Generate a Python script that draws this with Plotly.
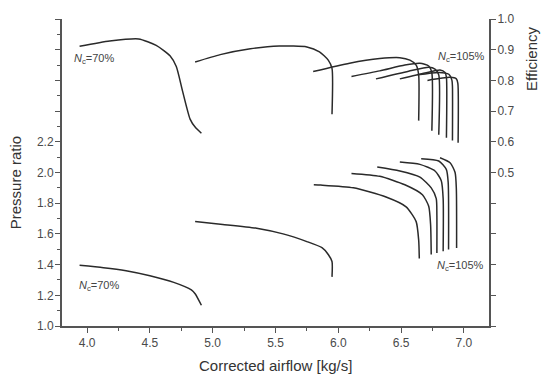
import plotly.graph_objects as go

# ---- data: pressure ratio lines (left axis) ----
pr70_m = [3.94, 4.13, 4.31, 4.50, 4.69, 4.83, 4.86, 4.91]
pr70_p = [1.395, 1.38, 1.36, 1.327, 1.284, 1.235, 1.21, 1.135]
pr2_m = [4.86, 5.08, 5.35, 5.56, 5.75, 5.87, 5.92, 5.95, 5.95]
pr2_p = [1.68, 1.662, 1.637, 1.60, 1.55, 1.51, 1.466, 1.42, 1.32]
pr3_m = [5.805, 5.86, 6.12, 6.38, 6.54, 6.62, 6.64, 6.645]
pr3_p = [1.92, 1.918, 1.90, 1.84, 1.776, 1.68, 1.56, 1.44]
pr4_m = [6.105, 6.33, 6.53, 6.67, 6.72, 6.735, 6.74]
pr4_p = [1.994, 1.975, 1.92, 1.855, 1.78, 1.66, 1.466]
pr5_m = [6.31, 6.49, 6.65, 6.74, 6.78, 6.785, 6.785]
pr5_p = [2.036, 2.01, 1.97, 1.90, 1.83, 1.72, 1.476]
pr6_m = [6.49, 6.65, 6.77, 6.82, 6.835, 6.835]
pr6_p = [2.068, 2.053, 2.01, 1.947, 1.83, 1.487]
pr7_m = [6.66, 6.80, 6.86, 6.875, 6.878]
pr7_p = [2.09, 2.075, 2.02, 1.936, 1.498]
pr8_m = [6.81, 6.89, 6.93, 6.94, 6.942]
pr8_p = [2.096, 2.064, 2.0, 1.893, 1.508]

# ---- data: efficiency lines (right axis) ----
ef1_m = [3.94, 4.18, 4.41, 4.55, 4.66, 4.71, 4.76, 4.82, 4.86, 4.91]
ef1_e = [0.911, 0.928, 0.935, 0.914, 0.88, 0.845, 0.765, 0.674, 0.648, 0.628]
ef2_m = [4.86, 5.06, 5.30, 5.53, 5.75, 5.85, 5.92, 5.95, 5.95]
ef2_e = [0.860, 0.884, 0.903, 0.912, 0.909, 0.893, 0.866, 0.839, 0.69]
ef3_m = [5.80, 6.09, 6.33, 6.49, 6.57, 6.62, 6.64, 6.64]
ef3_e = [0.829, 0.856, 0.871, 0.874, 0.866, 0.85, 0.818, 0.669]
ef4_m = [6.105, 6.33, 6.53, 6.65, 6.72, 6.745, 6.745]
ef4_e = [0.813, 0.831, 0.85, 0.856, 0.847, 0.824, 0.636]
ef5_m = [6.30, 6.56, 6.72, 6.77, 6.80, 6.80]
ef5_e = [0.805, 0.83, 0.843, 0.837, 0.818, 0.623]
ef6_m = [6.49, 6.69, 6.81, 6.85, 6.861, 6.861]
ef6_e = [0.805, 0.824, 0.834, 0.826, 0.81, 0.613]
ef7_m = [6.63, 6.80, 6.88, 6.905, 6.909, 6.909]
ef7_e = [0.818, 0.826, 0.82, 0.80, 0.78, 0.604]
ef8_m = [6.71, 6.89, 6.94, 6.952, 6.954]
ef8_e = [0.80, 0.81, 0.805, 0.79, 0.597]

x_ticks = [4.0, 4.5, 5.0, 5.5, 6.0, 6.5, 7.0]
pr_ticks = [1.0, 1.2, 1.4, 1.6, 1.8, 2.0, 2.2, 2.4, 2.6, 2.8, 3.0]
pr_label_vals = [1.0, 1.2, 1.4, 1.6, 1.8, 2.0, 2.2]
ef_ticks = [0.0, 0.1, 0.2, 0.3, 0.4, 0.5, 0.6, 0.7, 0.8, 0.9, 1.0]
ef_label_vals = [0.5, 0.6, 0.7, 0.8, 0.9, 1.0]

FONT = "Liberation Sans, Arial, sans-serif"
LC = "#2a2a2a"
AC = "#555555"
TC = "#4a4a4a"

fig = go.Figure()
for m, p in [(pr70_m, pr70_p), (pr2_m, pr2_p), (pr3_m, pr3_p), (pr4_m, pr4_p),
             (pr5_m, pr5_p), (pr6_m, pr6_p), (pr7_m, pr7_p), (pr8_m, pr8_p)]:
    fig.add_trace(go.Scatter(x=m, y=p, mode="lines", yaxis="y",
                             line=dict(color=LC, width=1.5, shape="spline", smoothing=0.6),
                             showlegend=False, hoverinfo="skip"))
for m, e in [(ef1_m, ef1_e), (ef2_m, ef2_e), (ef3_m, ef3_e), (ef4_m, ef4_e),
             (ef5_m, ef5_e), (ef6_m, ef6_e), (ef7_m, ef7_e), (ef8_m, ef8_e)]:
    fig.add_trace(go.Scatter(x=m, y=e, mode="lines", yaxis="y2",
                             line=dict(color=LC, width=1.5, shape="spline", smoothing=0.6),
                             showlegend=False, hoverinfo="skip"))

tick_common = dict(showgrid=False, zeroline=False, tickcolor=AC, tickwidth=1,
                   tickfont=dict(size=12, color=TC))
label_common = {k: v for k, v in tick_common.items() if k != "tickcolor"}

fig.update_layout(
    width=542, height=378,
    margin=dict(l=62, r=53, t=14, b=52),
    plot_bgcolor="white", paper_bgcolor="white",
    font=dict(family=FONT, size=12, color=TC),
    xaxis=dict(range=[3.8, 7.2], tickvals=x_ticks, ticktext=[f"{v:.1f}" for v in x_ticks],
               showline=True, linecolor=AC, linewidth=1.5, ticks="outside", ticklen=5,
               minor=dict(dtick=0.25, tick0=3.75, ticks="outside", ticklen=3, tickcolor=AC),
               **tick_common),
    # left axis: tick marks (all) without labels
    yaxis=dict(range=[1.0, 3.0], tickvals=pr_ticks, showticklabels=False,
               showline=True, linecolor=AC, linewidth=1.5, ticks="outside", ticklen=5,
               minor=dict(dtick=0.1, tick0=1.0, ticks="outside", ticklen=3, tickcolor=AC),
               **tick_common),
    # right axis: tick marks (all) without labels
    yaxis2=dict(range=[0.0, 1.0], tickvals=ef_ticks, showticklabels=False,
                overlaying="y", side="right", anchor="x",
                showline=True, linecolor=AC, linewidth=1.5, ticks="outside", ticklen=5,
                **tick_common),
    # label-only axes
    yaxis3=dict(range=[1.0, 3.0], tickvals=pr_label_vals, ticktext=[f"{v:.1f}" for v in pr_label_vals],
                overlaying="y", side="left", anchor="x", showline=False,
                ticks="outside", ticklen=5, tickcolor="rgba(0,0,0,0)", **label_common),
    yaxis4=dict(range=[0.0, 1.0], tickvals=ef_label_vals, ticktext=[f"{v:.1f}" for v in ef_label_vals],
                overlaying="y", side="right", anchor="x", showline=False,
                ticks="outside", ticklen=5, tickcolor="rgba(0,0,0,0)", **label_common),
)

# invisible helper traces so the label axes are laid out
fig.add_trace(go.Scatter(x=[3.8], y=[1.0], yaxis="y3", mode="markers", marker=dict(opacity=0),
                         showlegend=False, hoverinfo="skip"))
fig.add_trace(go.Scatter(x=[3.8], y=[0.0], yaxis="y4", mode="markers", marker=dict(opacity=0),
                         showlegend=False, hoverinfo="skip"))

ann = [
    dict(text="Pressure ratio", x=-0.110, y=0.465, xref="paper", yref="paper", textangle=-90,
         xanchor="center", yanchor="middle", showarrow=False, font=dict(size=15, color="#333")),
    dict(text="Efficiency", x=1.100, y=0.869, xref="paper", yref="paper", textangle=-90,
         xanchor="center", yanchor="middle", showarrow=False, font=dict(size=15, color="#333")),
    dict(text="Corrected airflow [kg/s]", x=0.5, y=-0.130, xref="paper", yref="paper",
         xanchor="center", yanchor="middle", showarrow=False, font=dict(size=15, color="#333")),
    dict(text="<i>N</i><sub>c</sub>=70%", x=3.878, y=0.869, xref="x", yref="y2", xanchor="left",
         yanchor="middle", showarrow=False, font=dict(size=11, color="#444")),
    dict(text="<i>N</i><sub>c</sub>=70%", x=3.918, y=1.263, xref="x", yref="y", xanchor="left",
         yanchor="middle", showarrow=False, font=dict(size=11, color="#444")),
    dict(text="<i>N</i><sub>c</sub>=105%", x=6.776, y=0.875, xref="x", yref="y2", xanchor="left",
         yanchor="middle", showarrow=False, font=dict(size=11, color="#444")),
    dict(text="<i>N</i><sub>c</sub>=105%", x=6.768, y=1.391, xref="x", yref="y", xanchor="left",
         yanchor="middle", showarrow=False, font=dict(size=11, color="#444")),
]
fig.update_layout(annotations=ann)

fig.write_html("out.html")
